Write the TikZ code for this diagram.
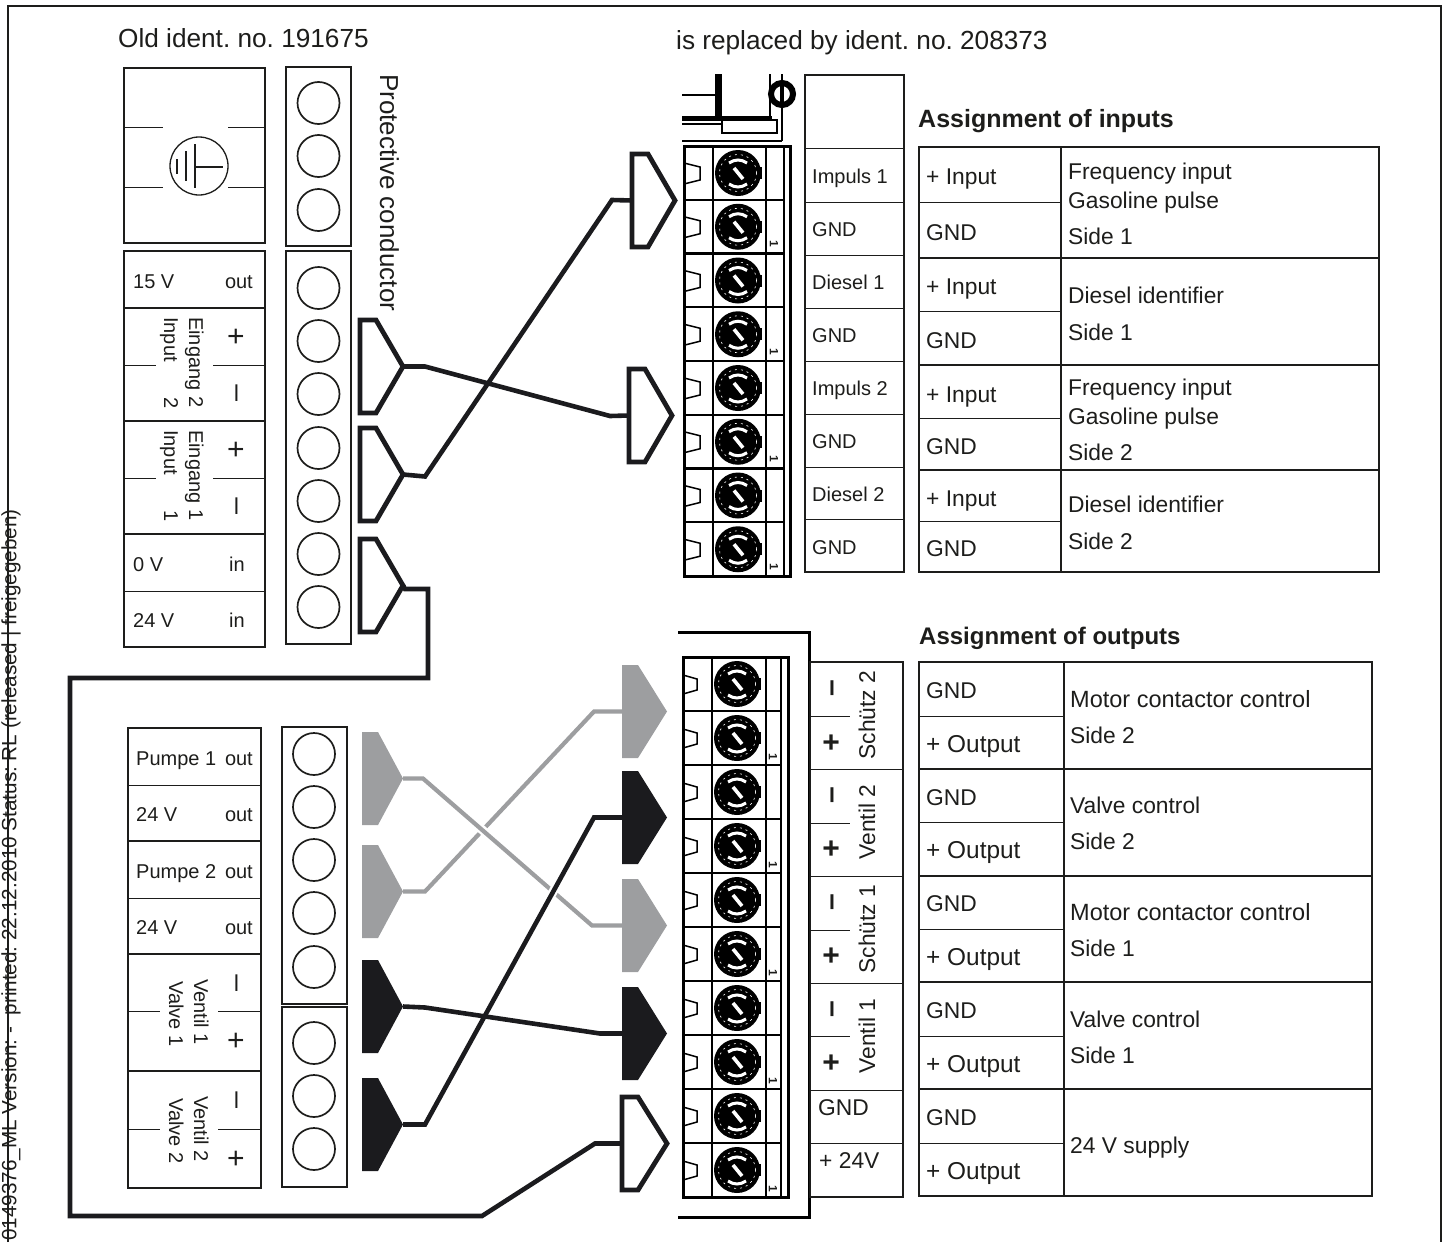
\documentclass[tikz,border=0pt]{standalone}
\usepackage{fontspec}
\setmainfont{Liberation Sans}
\frenchspacing
\definecolor{inkblack}{RGB}{29,29,27}
\definecolor{plugblack}{RGB}{27,27,30}
\definecolor{pluggrey}{RGB}{157,158,160}
\tikzset{
  txtbase/.style={inner sep=0pt,text=inkblack},
  smalltxt/.style={txtbase,anchor=west,text height=14pt,text depth=0pt,font=\fontsize{20}{24}\selectfont},
  celltxt/.style={txtbase,anchor=west,text height=16pt,text depth=0pt,font=\fontsize{22.8}{26}\selectfont},
  bigtxt/.style={txtbase,anchor=west,text height=18pt,text depth=0pt,font=\fontsize{26.2}{30}\selectfont},
  headtxt/.style={txtbase,anchor=west,text height=17pt,text depth=0pt,font=\bfseries\fontsize{25}{30}\selectfont},
  sigtxt/.style={txtbase,font=\fontsize{30}{30}\selectfont},
  boldsig/.style={txtbase,font=\bfseries\fontsize{30}{30}\selectfont},
  downtxt/.style={txtbase,anchor=west,rotate=-90,text height=14pt,text depth=0pt,font=\fontsize{20}{24}\selectfont},
  uptxt/.style={txtbase,anchor=center,rotate=90,text height=16pt,text depth=0pt,font=\fontsize{22.8}{26}\selectfont},
  stamptxt/.style={txtbase,rotate=-90,font=\bfseries\fontsize{12}{12}\selectfont},
  boxline/.style={draw=inkblack,line width=2.6pt},
  thinline/.style={draw=inkblack,line width=1pt},
  hole/.style={draw=inkblack,line width=1.7pt},
  wirepart/.style={draw=plugblack,line width=4.6pt},
  greywire/.style={draw=pluggrey,line width=4.2pt},
  gapline/.style={draw=white,line width=9pt},
  plugopen/.style={draw=plugblack,line width=4.8pt,fill=white},
  plugfull/.style={fill=plugblack},
  pluggray/.style={fill=pluggrey},
}
\newcommand{\motorctl}{{\fontsize{23.5}{26}\selectfont Motor contactor control}}
\newcommand{\plusout}{{\fontsize{24.4}{26}\selectfont + Output}}
% screw terminal
\newcommand{\screwhead}[2]{
  \fill[black] (#1,#2) circle [radius=23];
  \fill[black] (#1+22,#2-6) rectangle (#1+24,#2+6);
  \draw[white,line width=.6pt,dash pattern=on 2pt off 4pt] (#1,#2) circle [radius=18.5];
  \draw[white,line width=3pt] (#1-9,#2-10) .. controls (#1-3,#2-14) and (#1+3,#2-14) .. (#1+9,#2-10);
  \draw[white,line width=3pt] (#1-9,#2+11) .. controls (#1-3,#2+15) and (#1+3,#2+15) .. (#1+9,#2+11);
  \draw[white,line width=3.6pt] (#1-4,#2-5) -- (#1+5,#2+6);
}
% plug: name, x, y, width, style
\newcommand{\plugbody}[5]{
  \path[#5] (#2,#3) -- ++(16,0) -- ++(#4-16,46.5) -- ++(16-#4,46.5) -- ++(-16,0) -- cycle;
  \coordinate (#1w) at (#2,#3+46.5);
  \coordinate (#1e) at (#2+#4,#3+46.5);
}
\begin{document}
\begin{tikzpicture}[x=1pt,y=-1pt]
\useasboundingbox (0,0) rectangle (1448,1242);
% frame
\draw[inkblack,line width=2pt] (8,1242) -- (8,6) -- (1441,6) -- (1441,1242);
\node (sidenote) [txtbase,anchor=west,rotate=90,font=\fontsize{20.7}{22}\selectfont] at (11,1241) {0149376\_ML Version: - \ printed: 22.12.2010 Status: RL (released | freigegeben)};
\node (oldno) [bigtxt] at (118,38) {Old ident. no. 191675};
\node (newno) [bigtxt] at (676,40) {is replaced by ident. no. 208373};
\node (pecond) [txtbase,anchor=west,rotate=-90,text height=18pt,text depth=0pt,font=\fontsize{26}{30}\selectfont] at (389,74) {Protective conductor};

% old device, earth block
\path[boxline] (124,68) rectangle (265,243);
\foreach \y in {127,187} {
  \path[thinline] (124,\y) -- (163,\y);
  \path[thinline] (228,\y) -- (265,\y);
}
\draw[inkblack,line width=1.3pt] (199,166) circle [radius=29];
\path[thinline,line width=1.6pt] (195,144) -- (195,188);
\path[thinline,line width=1.6pt] (195,167) -- (223,167);
\path[thinline,line width=1.6pt] (186,151) -- (186,181);
\path[thinline,line width=1.6pt] (177,159) -- (177,174);
\path[boxline,line width=2pt] (286,67) rectangle (351,246);
\foreach \y in {103,156,210} \path[hole] (318.5,\y) circle [radius=21];
\path[boxline,line width=2pt] (286,251) rectangle (351,644);
\foreach \y in {288,341,394,448,501,554,607} \path[hole] (318.5,\y) circle [radius=21];

% old device, inputs
\path[boxline] (124,251) rectangle (265,647);
\foreach \y in {308,421,534} \path[boxline] (124,\y) -- (265,\y);
\path[thinline] (124,591) -- (265,591);
\foreach \y in {365,478} {
  \path[thinline] (124,\y) -- (156,\y);
  \path[thinline] (213,\y) -- (265,\y);
}
\node (oldv) [smalltxt] at (133,281) {15 V};
\node (oldvd) [smalltxt,anchor=east] at (253,281) {out};
\node (oldz) [smalltxt] at (133,564) {0 V};
\node (oldzd) [smalltxt,anchor=east] at (245,564) {in};
\node (oldf) [smalltxt] at (133,620) {24 V};
\node (oldfd) [smalltxt,anchor=east] at (245,620) {in};
\node (eintwo) [downtxt] at (196,317) {Eingang 2};
\node (intwo) [downtxt] at (171,317) {Input\hspace{36pt}2};
\node (einone) [downtxt] at (196,430) {Eingang 1};
\node (inone) [downtxt] at (171,430) {Input\hspace{36pt}1};
\node (ptwo) [sigtxt] at (236,338) {+};
\node (mtwo) [sigtxt,rotate=90] at (240,393) {–};
\node (pone) [sigtxt] at (236,451) {+};
\node (mone) [sigtxt,rotate=90] at (240,506) {–};

% old device, outputs
\path[boxline] (128,728) rectangle (261,1188);
\foreach \y in {841,954,1071} \path[boxline] (128,\y) -- (261,\y);
\foreach \y in {785,898} \path[thinline] (128,\y) -- (261,\y);
\foreach \y in {1011,1129} {
  \path[thinline] (128,\y) -- (160,\y);
  \path[thinline] (218,\y) -- (261,\y);
}
\foreach \y/\a/\b [count=\i] in {758/Pumpe 1/out,814/24 V/out,871/Pumpe 2/out,927/24 V/out} {
  \node (pumpl\i) [smalltxt] at (136,\y) {\a};
  \node (pumpr\i) [smalltxt,anchor=east] at (253,\y) {\b};
}
\node (vone) [downtxt] at (201,979) {Ventil 1};
\node (vaone) [downtxt] at (176,981) {Valve 1};
\node (vtwo) [downtxt] at (201,1096) {Ventil 2};
\node (vatwo) [downtxt] at (176,1098) {Valve 2};
\node (vmone) [sigtxt,rotate=90] at (240,983) {–};
\node (vpone) [sigtxt] at (236,1042) {+};
\node (vmtwo) [sigtxt,rotate=90] at (240,1100) {–};
\node (vptwo) [sigtxt] at (236,1160) {+};
\path[boxline,line width=2pt] (282,727) rectangle (347,1004);
\foreach \y in {754,807,860,913,967} \path[hole] (314,\y) circle [radius=21];
\path[boxline,line width=2pt] (282,1007) rectangle (347,1187);
\foreach \y in {1043,1096,1149} \path[hole] (314,\y) circle [radius=21];

% new device, top part
\draw[black,line width=1.3pt] (682,95) -- (718,95);
\draw[black,line width=5pt] (682,118) -- (772,118);
\draw[black,line width=1.3pt] (682,124) -- (722,124);
\draw[black,line width=7pt] (718,74) -- (718,120);
\draw[black,line width=2.4pt] (770,74) -- (770,118);
\draw[black,line width=1.8pt] (722,120) rectangle (777,133);
\draw[black,line width=1.3pt] (682,141) -- (782,141);
\draw[black,line width=2.2pt] (782,74) -- (782,141);
\draw[black,line width=6pt] (782,94) circle [radius=11];
\draw[black,line width=3.4pt] (782,83) -- (782,105);

% terminal strips
\draw[black,line width=3pt] (684,146) rectangle (790,576);
\draw[black,line width=2.6pt] (713,146) -- (713,576);
\draw[black,line width=2pt] (766,146) -- (766,576);
\draw[black,line width=2pt] (784,146) -- (784,576);
\foreach \i in {1,...,7} \draw[black,line width=2.4pt] (684,146+\i*53.75) -- (784,146+\i*53.75);
\foreach \i in {0,...,7} {
  \draw[black,line width=1.5pt] (684,163+\i*53.75) -- (700,167+\i*53.75) -- (700,180+\i*53.75) -- (684,184+\i*53.75);
  \screwhead{738}{173+\i*53.75}
}
\foreach \i in {1,3,5,7}
  \node (instamp\i) [stamptxt] at (774,190.5+\i*53.75) {1};

\draw[black,line width=3pt] (683,657) rectangle (788,1197);
\draw[black,line width=2.6pt] (712,657) -- (712,1197);
\draw[black,line width=2pt] (766,657) -- (766,1197);
\draw[black,line width=2pt] (781,657) -- (781,1197);
\foreach \i in {1,...,9} \draw[black,line width=2.4pt] (683,657+\i*54) -- (781,657+\i*54);
\foreach \i in {0,...,9} {
  \draw[black,line width=1.5pt] (683,675+\i*54) -- (697,679+\i*54) -- (697,690+\i*54) -- (683,694+\i*54);
  \screwhead{737}{684+\i*54}
}
\foreach \i in {1,3,5,7,9}
  \node (outstamp\i) [stamptxt] at (773,703+\i*54) {1};
\draw[black,line width=3pt] (678,632) -- (809.5,632) -- (809.5,1217) -- (678,1217);

% label strips
\path[boxline,line width=2pt] (805,75) rectangle (904,572);
\foreach \y in {148,202,255,308,361,414,467,519} \path[thinline] (805,\y) -- (904,\y);
\foreach \y/\t [count=\i] in {176/Impuls 1,229/GND,282/Diesel 1,335/GND,388/Impuls 2,441/GND,494/Diesel 2,547/GND}
  \node (strip\i) [smalltxt] at (812,\y) {\t};
\path[boxline,line width=2pt] (809.5,662) rectangle (903,1197);
\foreach \y in {769,876,983,1090,1143} \path[thinline] (809,\y) -- (903,\y);
\foreach \y in {716,823,930,1036} \path[thinline] (809,\y) -- (850,\y);
\foreach \y/\t [count=\i] in {715/Schütz 2,822/Ventil 2,929/Schütz 1,1036/Ventil 1}
  \node (outname\i) [uptxt] at (867,\y) {\t};
\foreach \y in {688,795,902,1009} \node (outm\y) [boldsig,rotate=90] at (836,\y) {–};
\foreach \y in {743,849,956,1063} \node (outp\y) [boldsig] at (831,\y+1) {+};
\node (stripgnd) [celltxt] at (818,1107) {GND};
\node (stripsup) [celltxt] at (819,1160) {+ 24V};

% assignment of inputs
\node (inhead) [headtxt] at (918,119) {Assignment of inputs};
\path[boxline] (919,147) rectangle (1379,572);
\path[boxline,line width=1.6pt] (1061,147) -- (1061,572);
\foreach \y in {258,365,470} \path[boxline,line width=2pt] (919,\y) -- (1379,\y);
\foreach \y in {202,311,418,521} \path[thinline] (919,\y) -- (1061,\y);
\foreach \y/\t [count=\i] in {176/+ Input,232/GND,286/+ Input,340/GND,394/+ Input,446/GND,498/+ Input,548/GND}
  \node (incell\i) [celltxt] at (926,\y) {\t};
\foreach \y/\t [count=\i] in {171/Frequency input,200/Gasoline pulse,236/Side 1,295/Diesel identifier,332/Side 1,387/Frequency input,416/Gasoline pulse,452/Side 2,504/Diesel identifier,541/Side 2}
  \node (inuse\i) [celltxt] at (1068,\y) {\t};

% assignment of outputs
\node (outhead) [headtxt,font=\bfseries\fontsize{24}{30}\selectfont] at (919,636) {Assignment of outputs};
\path[boxline] (919,662) rectangle (1372,1196);
\path[boxline,line width=1.6pt] (1064,662) -- (1064,1196);
\foreach \y in {769,876,982,1089} \path[boxline,line width=2pt] (919,\y) -- (1372,\y);
\foreach \y in {716,822,929,1036,1143} \path[thinline] (919,\y) -- (1064,\y);
\foreach \y/\t [count=\i] in {690/GND,744/\plusout,797/GND,850/\plusout,903/GND,957/\plusout,1010/GND,1064/\plusout,1117/GND,1171/\plusout}
  \node (outcell\i) [celltxt] at (926,\y) {\t};
\foreach \y/\t [count=\i] in {699/\motorctl,735/Side 2,805/Valve control,841/Side 2,912/\motorctl,948/Side 1,1019/Valve control,1055/Side 1,1145/24 V supply}
  \node (outuse\i) [celltxt] at (1070,\y) {\t};

% plugs
\plugbody{pa}{360}{320}{43}{plugopen}
\plugbody{pb}{360}{428}{43}{plugopen}
\plugbody{pc}{360}{539}{43}{plugopen}
\plugbody{qa}{632}{154}{43}{plugopen}
\plugbody{qb}{629}{369}{43}{plugopen}
\plugbody{qc}{622}{1097}{45}{plugopen}
\plugbody{ga}{362}{732}{41}{pluggray}
\plugbody{gb}{362}{845}{41}{pluggray}
\plugbody{ha}{622}{665}{45}{pluggray}
\plugbody{hb}{622}{879}{45}{pluggray}
\plugbody{ka}{362}{960}{41}{plugfull}
\plugbody{kb}{362}{1078}{41}{plugfull}
\plugbody{la}{622}{771}{45}{plugfull}
\plugbody{lb}{622}{987}{45}{plugfull}

% wires
\path[wirepart] (pae) -- ++(22,0) -- (610,416) -- (qbw);
\path[wirepart] (pbe) -- ++(22,2) -- (612,200) -- (qaw);
\path[wirepart] (pce) -- ++(2,3.5) -- (428,589) -- (428,678) -- (70,678) -- (70,1216) -- (482,1216) -- (595,1143.5) -- (qcw);
\path[greywire] (gbe) -- ++(22,0) -- (594,711.5) -- (haw);
\path[gapline] (475,823.5) -- (490,836.6);
\path[greywire] (gae) -- ++(20,0) -- (592,925.5) -- (hbw);
\path[gapline] (546,904.6) -- (560,879);
\path[wirepart] (kbe) -- ++(22,0) -- (594,817.5) -- (law);
\path[wirepart] (kae) -- ++(22,1) -- (600,1033.5) -- (lbw);
\end{tikzpicture}
\end{document}
